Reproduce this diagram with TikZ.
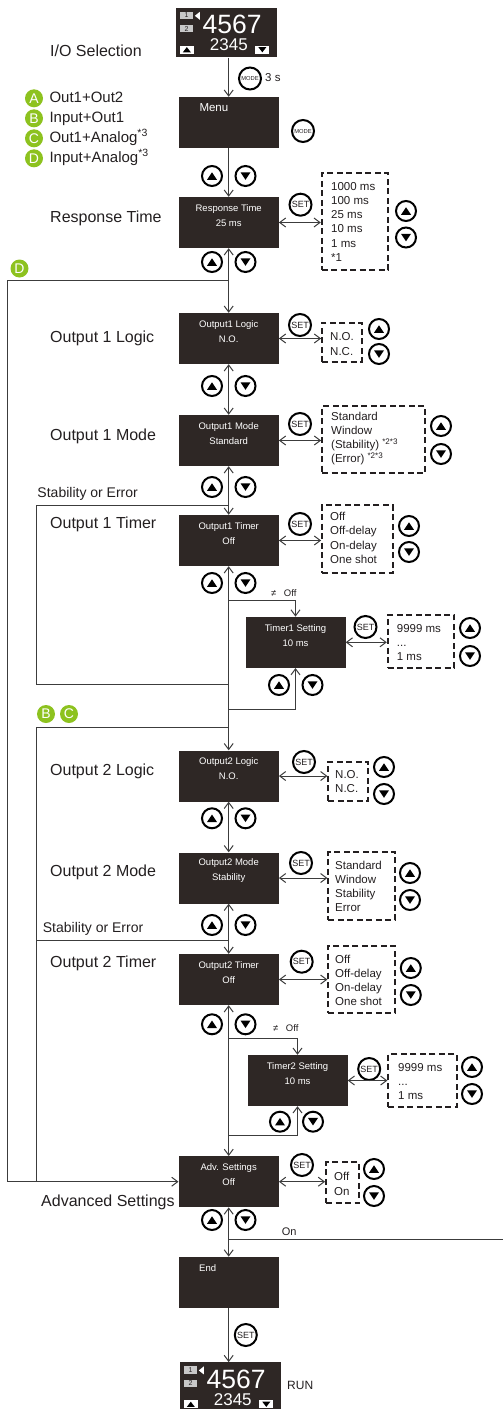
\documentclass[tikz,border=0pt]{standalone}
\usepackage{fontspec}
\setmainfont{Liberation Sans}
\usetikzlibrary{arrows.meta}
\definecolor{boxc}{HTML}{2E2725}
\definecolor{txt}{HTML}{231F20}
\definecolor{lnc}{HTML}{3C3C3C}
\definecolor{grn}{HTML}{8DC21F}
\definecolor{lgray}{HTML}{C8C8C8}
\newcommand\dispc[1]{%
\begin{scope}[shift={(#1.north west)}]
\node[numb] (#1-a) at (10.8,7.8) {1};
\node[numb] (#1-b) at (10.8,21.2) {2};
\fill[white] (19,8.3) -- (24,4.3) -- (24,12.3) -- cycle;
\node[text=white, font=\fontsize{26.5}{27}\selectfont, inner sep=0] (#1-big) at (56.3,17) {4567};
\node[text=white, font=\fontsize{17}{18}\selectfont, inner sep=0] (#1-small) at (53,37.6) {2345};
\node[keyup] (#1-up) at (11,42.2) {};
\node[keydn] (#1-dn) at (86.5,42.2) {};
\end{scope}}
\begin{document}
\begin{tikzpicture}[x=1pt,y=-1pt,
  ln/.style={draw=lnc, line width=1pt},
  arr/.style={ln, -{Straight Barb[length=6pt,width=9pt]}},
  dbl/.style={ln, {Straight Barb[length=6pt,width=9pt]}-{Straight Barb[length=6pt,width=9pt]}},
  scr/.style={rectangle, fill=boxc, minimum width=100pt, minimum height=51pt, inner sep=0},
  bt/.style={text=white, font=\fontsize{9.5}{15}\selectfont, align=center, inner sep=0},
  opt/.style={rectangle, draw=txt, line width=1.8pt, dash pattern=on 6pt off 3.5pt, inner sep=0},
  ot/.style={text=txt, font=\fontsize{11.5}{14.2}\selectfont, align=left, anchor=west, inner sep=0},
  btn/.style={circle, draw=black, line width=2pt, fill=white, minimum size=20pt, inner sep=0},
  upb/.style={btn, path picture={\fill[black] ([yshift=3.75pt]path picture bounding box.center) -- ++(-5pt,-7.5pt) -- ++(10pt,0pt) -- cycle;}},
  dnb/.style={btn, path picture={\fill[black] ([yshift=-3.75pt]path picture bounding box.center) -- ++(-5pt,7.5pt) -- ++(10pt,0pt) -- cycle;}},
  setb/.style={btn, minimum size=22pt, font=\fontsize{9}{9}\selectfont, text=txt},
  modeb/.style={btn, minimum size=22pt, font=\fontsize{5.8}{6}\selectfont, text=txt},
  lab/.style={text=txt, font=\fontsize{16}{19}\selectfont, anchor=west, inner sep=0, text height=11.5pt, text depth=3.4pt},
  leg/.style={circle, fill=grn, text=white, minimum size=18pt, inner sep=0, font=\fontsize{14}{14}\selectfont},
  legt/.style={text=txt, font=\fontsize{15}{18}\selectfont, anchor=west, inner sep=0, text height=11pt, text depth=3.2pt},
  se/.style={text=txt, font=\fontsize{14}{16}\selectfont, anchor=west, inner sep=0},
  sm/.style={text=txt, font=\fontsize{9.5}{11}\selectfont, anchor=west, inner sep=0},
  numb/.style={rectangle, fill=lgray, minimum width=13pt, minimum height=7.3pt, inner sep=0, font=\fontsize{7}{7}\selectfont, text=txt},
  keyup/.style={rectangle, fill=white, minimum width=14pt, minimum height=8.3pt, inner sep=0, path picture={\fill[black] ([yshift=2.6pt]path picture bounding box.center) -- ++(-4pt,-5.2pt) -- ++(8pt,0pt) -- cycle;}},
  keydn/.style={rectangle, fill=white, minimum width=14pt, minimum height=8.3pt, inner sep=0, path picture={\fill[black] ([yshift=-2.6pt]path picture bounding box.center) -- ++(-4pt,5.2pt) -- ++(8pt,0pt) -- cycle;}}
]
\useasboundingbox (0,0) rectangle (503,1409);
\clip (0,0) rectangle (503,1409);

% top display
\node[scr, minimum width=101.3pt, minimum height=49.6pt] (disp1) at (226.7,32.5) {};
\dispc{disp1}
\node[lab] (iolab) at (50,52) {I/O Selection};
\node[modeb] (mode1) at (250,78.5) {MODE};
\node[text=txt, font=\fontsize{11.5}{12}\selectfont, anchor=west, inner sep=0] (threes) at (265,78) {3 s};

% menu
\node[scr] (menu) at (228.7,122.5) {};
\node[text=white, font=\fontsize{11.5}{12}\selectfont, anchor=west, inner sep=0] (menut) at (199.3,108) {Menu};
\node[modeb] (mode2) at (303,131) {MODE};

% legend
\node[leg] (legA) at (34,98.3) {A};
\node[legt] (legAt) at (49.3,98.3) {Out1+Out2};
\node[leg] (legB) at (34,118.3) {B};
\node[legt] (legBt) at (49.3,118.3) {Input+Out1};
\node[leg] (legC) at (34,138.3) {C};
\node[legt] (legCt) at (49.3,138.3) {Out1+Analog\textsuperscript{*3}};
\node[leg] (legD) at (34,158.3) {D};
\node[legt] (legDt) at (49.3,158.3) {Input+Analog\textsuperscript{*3}};

% response time
\node[upb] (b1u) at (212,176) {};
\node[dnb] (b1d) at (245.5,176) {};
\node[scr] (rt) at (228.7,222.5) {};
\node[bt] (rtt) at ([yshift=-18.5pt]rt.north) {Response Time\\25 ms};
\node[lab] (rtl) at (50,218.3) {Response Time};
\node[setb] (rts) at (300.5,204.7) {SET};
\node[opt, minimum width=66.6pt, minimum height=96.7pt] (rto) at (355,221.65) {};
\node[ot] (rtot) at (331,221.85) {1000 ms\\100 ms\\25 ms\\10 ms\\1 ms\\*1};
\node[upb] (rtu) at (406,211) {};
\node[dnb] (rtd) at (406,237.5) {};
\node[upb] (b2u) at (212,262) {};
\node[dnb] (b2d) at (245.5,262) {};
\node[leg] (legD2) at (19.5,268.5) {D};

% output 1 logic
\node[scr] (o1l) at (228.7,338.5) {};
\node[bt] (o1lt) at ([yshift=-18.5pt]o1l.north) {Output1 Logic\\N.O.};
\node[lab] (o1ll) at (50,338.3) {Output 1 Logic};
\node[setb] (o1ls) at (300,325) {SET};
\node[opt, minimum width=39.7pt, minimum height=39pt] (o1lo) at (341.85,342.2) {};
\node[ot] (o1lot) at (330,344) {N.O.\\N.C.};
\node[upb] (o1lu) at (379,329) {};
\node[dnb] (o1ld) at (379,354) {};
\node[upb] (b3u) at (212,386) {};
\node[dnb] (b3d) at (245.5,386) {};

% output 1 mode
\node[scr] (o1m) at (228.7,440.5) {};
\node[bt] (o1mt) at ([yshift=-18.5pt]o1m.north) {Output1 Mode\\Standard};
\node[lab] (o1ml) at (50,436.7) {Output 1 Mode};
\node[setb] (o1ms) at (300,424) {SET};
\node[opt, minimum width=103pt, minimum height=67pt] (o1mo) at (373.5,439.5) {};
\node[ot] (o1mot) at (331,438.5) {Standard\\Window\\(Stability) \textsuperscript{*2*3}\\(Error) \textsuperscript{*2*3}};
\node[upb] (o1mu) at (441,426) {};
\node[dnb] (o1md) at (441,454) {};
\node[upb] (b4u) at (212,487) {};
\node[dnb] (b4d) at (245.5,487) {};
\node[se] (se1) at (37.3,494) {Stability or Error};

% output 1 timer
\node[scr] (o1t) at (228.7,540.5) {};
\node[bt] (o1tt) at ([yshift=-18.5pt]o1t.north) {Output1 Timer\\Off};
\node[lab] (o1tl) at (50,524) {Output 1 Timer};
\node[setb] (o1ts) at (300,524) {SET};
\node[opt, minimum width=70.7pt, minimum height=68pt] (o1to) at (357.35,539) {};
\node[ot] (o1tot) at (330,537.85) {Off\\Off-delay\\On-delay\\One shot};
\node[upb] (o1tu) at (409,526) {};
\node[dnb] (o1td) at (409,552) {};
\node[upb] (b5u) at (212,583) {};
\node[dnb] (b5d) at (245.5,583) {};
\node[sm] (ne1) at (271,593) {≠\hspace{7.5pt}Off};

% timer 1 setting
\node[scr] (ts1) at (295.5,642.3) {};
\node[bt] (ts1t) at ([yshift=-18.5pt]ts1.north) {Timer1 Setting\\10 ms};
\node[setb] (ts1s) at (365.5,627) {SET};
\node[opt, minimum width=66.6pt, minimum height=52.7pt] (ts1o) at (421,641.35) {};
\node[ot] (ts1ot) at (396.7,642.35) {9999 ms\\...\\1 ms};
\node[upb] (ts1u) at (470,628) {};
\node[dnb] (ts1d) at (470,656) {};
\node[upb] (b6u) at (279,685) {};
\node[dnb] (b6d) at (312.5,685) {};

% B C
\node[leg] (legB2) at (46,714) {B};
\node[leg] (legC2) at (69,714) {C};

% output 2 logic
\node[scr] (o2l) at (228.7,776) {};
\node[bt] (o2lt) at ([yshift=-18.5pt]o2l.north) {Output2 Logic\\N.O.};
\node[lab] (o2ll) at (50,771.7) {Output 2 Logic};
\node[setb] (o2ls) at (304,762) {SET};
\node[opt, minimum width=40pt, minimum height=39pt] (o2lo) at (348.3,781.2) {};
\node[ot] (o2lot) at (335,781.3) {N.O.\\N.C.};
\node[upb] (o2lu) at (384,767) {};
\node[dnb] (o2ld) at (384,794) {};
\node[upb] (b7u) at (212,818.3) {};
\node[dnb] (b7d) at (245.5,818.3) {};

% output 2 mode
\node[scr] (o2m) at (228.7,878) {};
\node[bt] (o2mt) at ([yshift=-18.5pt]o2m.north) {Output2 Mode\\Stability};
\node[lab] (o2ml) at (50,872.7) {Output 2 Mode};
\node[setb] (o2ms) at (301,863) {SET};
\node[opt, minimum width=66.7pt, minimum height=68.3pt] (o2mo) at (361.65,885.85) {};
\node[ot] (o2mot) at (335,886.35) {Standard\\Window\\Stability\\Error};
\node[upb] (o2mu) at (410,873) {};
\node[dnb] (o2md) at (410,900) {};
\node[upb] (b8u) at (212,925) {};
\node[dnb] (b8d) at (245.5,925) {};
\node[se] (se2) at (42.7,929.3) {Stability or Error};

% output 2 timer
\node[scr] (o2t) at (228.7,979.5) {};
\node[bt] (o2tt) at ([yshift=-18.5pt]o2t.north) {Output2 Timer\\Off};
\node[lab] (o2tl) at (50,963.3) {Output 2 Timer};
\node[setb] (o2ts) at (301.7,961.7) {SET};
\node[opt, minimum width=66.7pt, minimum height=67.6pt] (o2to) at (361.65,979.5) {};
\node[ot] (o2tot) at (335,980.3) {Off\\Off-delay\\On-delay\\One shot};
\node[upb] (o2tu) at (410.8,968) {};
\node[dnb] (o2td) at (410.8,995) {};
\node[upb] (b9u) at (212,1024.3) {};
\node[dnb] (b9d) at (245.5,1024.3) {};
\node[sm] (ne2) at (273,1027.7) {≠\hspace{7.5pt}Off};

% timer 2 setting
\node[scr] (ts2) at (297.5,1080.5) {};
\node[bt] (ts2t) at ([yshift=-18.5pt]ts2.north) {Timer2 Setting\\10 ms};
\node[setb] (ts2s) at (369.2,1069) {SET};
\node[opt, minimum width=68.4pt, minimum height=52.7pt] (ts2o) at (422.5,1080.35) {};
\node[ot] (ts2ot) at (398,1081.5) {9999 ms\\...\\1 ms};
\node[upb] (ts2u) at (472,1067) {};
\node[dnb] (ts2d) at (472,1094) {};
\node[upb] (b10u) at (280,1121.7) {};
\node[dnb] (b10d) at (313,1121.7) {};

% advanced settings
\node[scr] (adv) at (228.7,1181.7) {};
\node[bt] (advt) at ([yshift=-18.5pt]adv.north) {Adv. Settings\\Off};
\node[lab] (advl) at (41,1202.7) {Advanced Settings};
\node[setb] (advs) at (302,1165) {SET};
\node[opt, minimum width=33.3pt, minimum height=40.4pt] (advo) at (342.65,1182.5) {};
\node[ot] (advot) at (334,1183.85) {Off\\On};
\node[upb] (advu) at (374,1169) {};
\node[dnb] (advd) at (374,1196) {};
\node[upb] (b11u) at (212,1220) {};
\node[dnb] (b11d) at (245.5,1220) {};
\node[text=txt, font=\fontsize{11}{12}\selectfont, anchor=west, inner sep=0] (onl) at (281.7,1231.7) {On};

% end
\node[scr] (endb) at (228.7,1282.3) {};
\node[text=white, font=\fontsize{9.5}{11}\selectfont, anchor=west, inner sep=0] (endt) at (199,1267.7) {End};
\node[setb] (ends) at (245.8,1335) {SET};

% run display
\node[scr, minimum width=101pt, minimum height=50pt] (disp2) at (230.5,1387.3) {};
\dispc{disp2}
\node[text=txt, font=\fontsize{12}{13}\selectfont, anchor=west, inner sep=0] (runl) at (287,1385.7) {RUN};

% main connectors
\draw[arr] (menu.north |- disp1.south) -- (menu.north);
\draw[arr] (menu) -- (rt);
\draw[dbl] (rt) -- (o1l);
\draw[dbl] (o1l) -- (o1m);
\draw[dbl] (o1m) -- (o1t);
\draw[dbl] (o1t) -- (o2l);
\draw[dbl] (o2l) -- (o2m);
\draw[dbl] (o2m) -- (o2t);
\draw[dbl] (o2t) -- (adv);
\draw[dbl] (adv) -- (endb);
\draw[arr] (endb) -- (endb |- disp2.north);

% set connectors
\draw[dbl] (rt.east) -- (rt.east -| rto.west);
\draw[dbl] (o1l.east) -- (o1l.east -| o1lo.west);
\draw[dbl] (o1m.east) -- (o1m.east -| o1mo.west);
\draw[dbl] (o1t.east) -- (o1t.east -| o1to.west);
\draw[dbl] (ts1.east) -- (ts1.east -| ts1o.west);
\draw[dbl] (o2l.east) -- (o2l.east -| o2lo.west);
\draw[dbl] (o2m.east) -- (o2m.east -| o2mo.west);
\draw[dbl] (o2t.east) -- (o2t.east -| o2to.west);
\draw[dbl] (ts2.east) -- (ts2.east -| ts2o.west);
\draw[dbl] (adv.east) -- (adv.east -| advo.west);

% bypass lines
\coordinate (dj) at (228.7,280);
\coordinate (dtl) at (7.3,280);
\draw[arr] (dj) -- (dtl) |- (adv.west);
\coordinate (bcj) at (228.7,727.3);
\coordinate (bctl) at (36.7,727.3);
\draw[ln] (bcj) -- (bctl) -- (bctl |- adv.west);
\coordinate (s1j) at (228.7,505.7);
\coordinate (s1tl) at (36.7,505.7);
\coordinate (s1r) at (228.7,684);
\draw[ln] (s1j) -- (s1tl) |- (s1r);
\coordinate (s2j) at (228.7,940);
\draw[ln] (s2j) -- (s2j -| bctl);

% timer branches
\coordinate (t1j) at (228.7,600);
\coordinate (t1r) at (228.7,709);
\draw[arr] (t1j) -| (ts1.north);
\draw[arr] (t1r) -| (ts1.south);
\coordinate (t2j) at (228.7,1038.3);
\coordinate (t2r) at (228.7,1135.7);
\draw[arr] (t2j) -| (ts2.north);
\draw[arr] (t2r) -| (ts2.south);

% on line
\coordinate (onj) at (228.7,1239);
\coordinate (onr) at (503,1239);
\draw[ln] (onj) -- (onr);
\end{tikzpicture}
\end{document}
